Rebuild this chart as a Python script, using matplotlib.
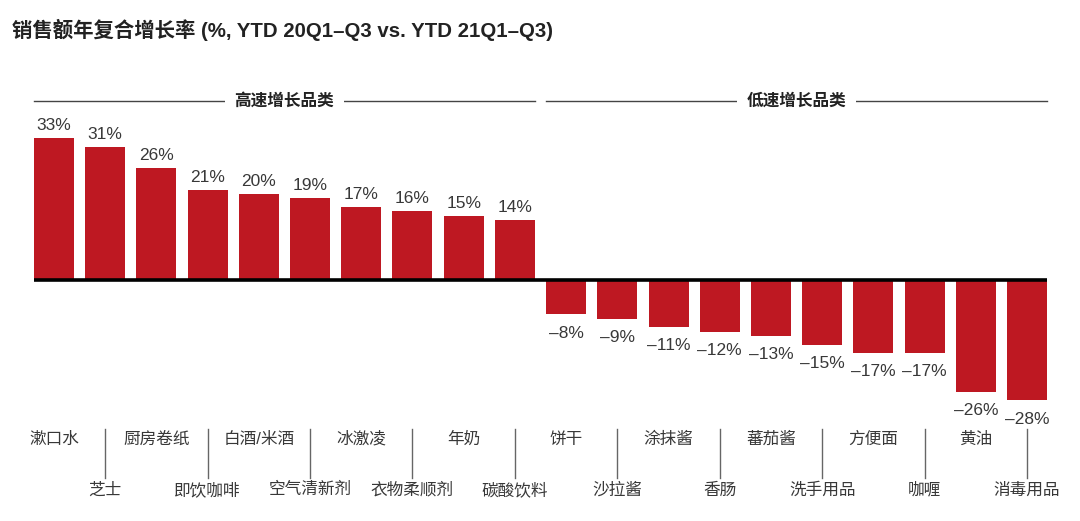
import matplotlib
matplotlib.use("Agg")
import matplotlib.pyplot as plt

plt.rcParams['font.family'] = ['Liberation Sans', 'Noto Sans CJK SC', 'DejaVu Sans']

categories = ["漱口水", "芝士", "厨房卷纸", "即饮咖啡", "白酒/米酒", "空气清新剂", "冰激凌",
              "衣物柔顺剂", "年奶", "碳酸饮料", "饼干", "沙拉酱", "涂抹酱", "香肠", "蕃茄酱",
              "洗手用品", "方便面", "咖喱", "黄油", "消毒用品"]
values = [33, 31, 26, 21, 20, 19, 17, 16, 15, 14,
          -8, -9, -11, -12, -13, -15, -17, -17, -26, -28]
groups = ["高速增长品类", "低速增长品类"]
title = "销售额年复合增长率 (%, YTD 20Q1–Q3 vs. YTD 21Q1–Q3)"

W, H = 1080, 521
fig = plt.figure(figsize=(W / 100, H / 100), dpi=100)
ax = fig.add_axes([34 / W, (H - 510) / H, (1047 - 34) / W, 420 / H])

bar_color = "#BE1822"
text_color = "#383838"
x = list(range(len(values)))
ax.bar(x, values, width=0.78, color=bar_color, zorder=2)
ax.set_xlim(-0.39, len(values) - 1 + 0.39)
ax.set_ylim(-53.49, 44.19)
ax.axis("off")
ax.axhline(0, color="black", lw=2.6, zorder=3)

for xi, v in zip(x, values):
    lab = f"{v}%" if v >= 0 else f"–{abs(v)}%"
    if v >= 0:
        ax.annotate(lab, (xi, v), xytext=(0, 3.5), textcoords="offset points",
                    ha="center", va="bottom", fontsize=12.5, color=text_color)
    else:
        ax.annotate(lab, (xi, v), xytext=(0, -8), textcoords="offset points",
                    ha="center", va="top", fontsize=12.5, color=text_color)

# category labels in two staggered rows
for xi, c in zip(x, categories):
    if xi % 2 == 0:
        ax.text(xi, -37.0, c, ha="center", va="center", fontsize=12, color=text_color)
    else:
        ax.text(xi, -48.8, c, ha="center", va="center", fontsize=12, color=text_color)
        ax.plot([xi, xi], [-34.6, -46.0], color="#666666", lw=1, clip_on=False)

# group headers
n_half = len(values) // 2
for gi, g in enumerate(groups):
    x0 = gi * n_half - 0.39
    x1 = gi * n_half + n_half - 1 + 0.39
    ax.plot([x0, x1], [41.6, 41.6], color="#444444", lw=1, clip_on=False)
    ax.text((x0 + x1) / 2, 41.6, g, ha="center", va="center", fontsize=12,
            weight="bold", color="#222222",
            bbox=dict(facecolor="white", edgecolor="none", pad=7))

fig.text(12 / W, 1 - 30 / H, title, ha="left", va="center", fontsize=14.7,
         weight="bold", color="#222222")

fig.savefig("out.png", dpi=100)
